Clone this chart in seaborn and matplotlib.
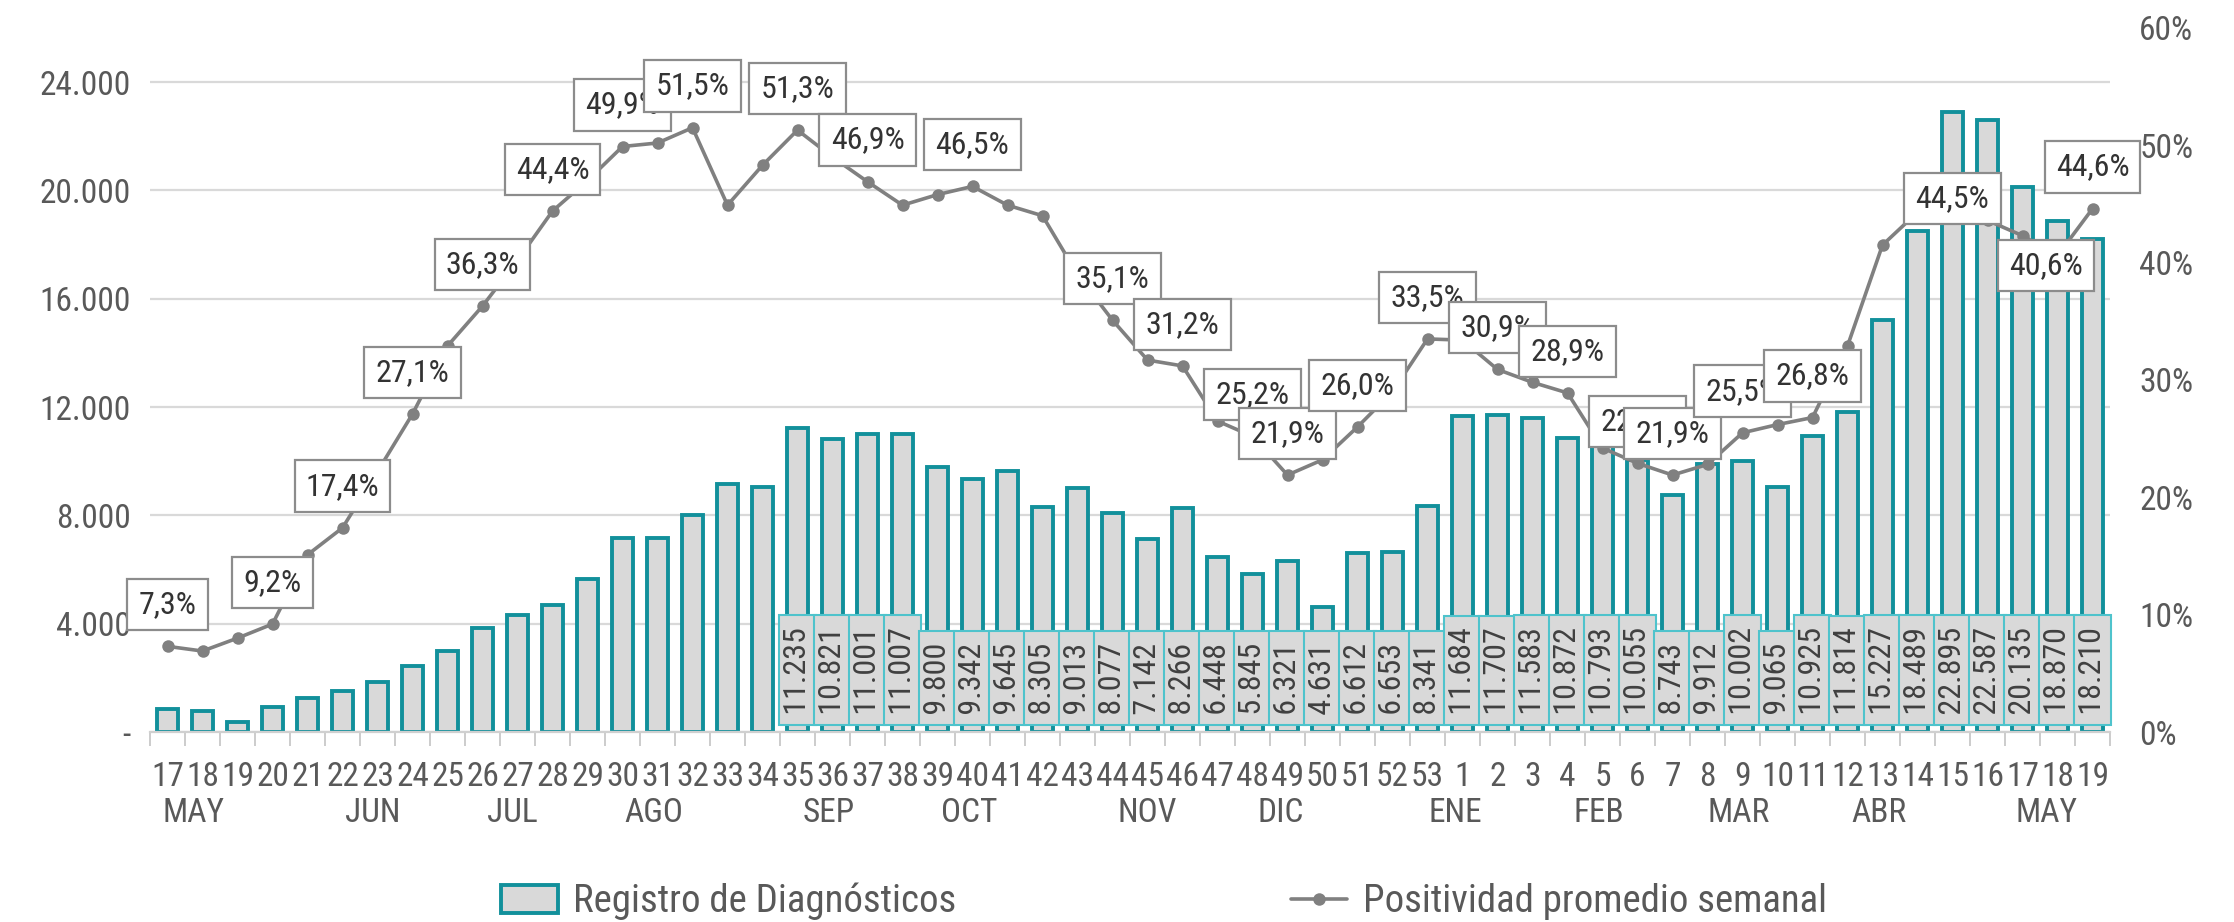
import matplotlib
matplotlib.use("Agg")
import pandas as pd
import matplotlib.pyplot as plt
import seaborn as sns
from matplotlib.patches import Patch
from matplotlib.lines import Line2D
from matplotlib.ticker import FuncFormatter, PercentFormatter
from matplotlib import font_manager

# -------------------------------
# Data (semanas epidemiológicas 17/2020 a 19/2021)
# -------------------------------
weeks = list(range(17, 54)) + list(range(1, 20))

diagnosticos = [
    850, 790, 380, 920, 1260, 1510, 1850, 2430, 3000, 3840, 4320, 4700,
    5640, 7170, 7170, 8010, 9170, 9060,
    11235, 10821, 11001, 11007, 9800, 9342, 9645, 8305, 9013, 8077, 7142,
    8266, 6448, 5845, 6321, 4631, 6612, 6653, 8341,
    11684, 11707, 11583, 10872, 10793, 10055, 8743, 9912, 10002, 9065,
    10925, 11814, 15227, 18489, 22895, 22587, 20135, 18870, 18210,
]

positividad = [
    7.3, 6.9, 8.0, 9.2, 15.1, 17.4, 22.2, 27.1, 32.9, 36.3, 40.2, 44.4,
    47.0, 49.9, 50.2, 51.5, 44.9, 48.3, 51.3, 49.0, 46.9, 44.9, 45.8, 46.5,
    44.9, 44.0, 39.0, 35.1, 31.7, 31.2, 26.5, 25.2, 21.9, 23.2, 26.0, 29.0,
    33.5,
    33.4, 30.9, 29.8, 28.9, 24.2, 22.9, 21.9, 22.8, 25.5, 26.2, 26.8, 32.9,
    41.5, 44.3, 44.5, 43.6, 42.3, 40.6, 44.6,
]

# weeks (by position) whose positivity value is labelled
pct_labelled = [0, 3, 5, 7, 9, 11, 13, 15, 18, 20, 23, 27, 29, 31, 32, 34,
                36, 38, 40, 42, 43, 45, 47, 51, 54, 55]
first_bar_label = 18  # bar values are shown from week 35 on

months = ["MAY", "JUN", "JUL", "AGO", "SEP", "OCT", "NOV", "DIC",
          "ENE", "FEB", "MAR", "ABR", "MAY"]
month_at = [0.75, 5.85, 9.85, 13.9, 18.9, 22.9, 28.0, 31.8,
            36.8, 40.9, 44.9, 48.9, 53.7]

df = pd.DataFrame({
    "idx": range(len(weeks)),
    "semana": weeks,
    "diagnosticos": diagnosticos,
    "positividad": [p / 100 for p in positividad],
})

# -------------------------------
# Style
# -------------------------------
TEAL = "#12909b"
TEAL_LIGHT = "#4fc3cc"
BAR_FILL = "#d9d9d9"
LINE_GREY = "#808080"
TXT = "#595959"

sns.set_theme(style="white")

# look for a narrow sans font, the original uses a condensed face
names = {f.name for f in font_manager.fontManager.ttflist}
narrow = [n for n in ["Liberation Sans Narrow", "DejaVu Sans Condensed",
                      "Roboto Condensed", "Open Sans Condensed"] if n in names]
condensed_dejavu = any(f.name == "DejaVu Sans" and f.stretch == "condensed"
                       for f in font_manager.fontManager.ttflist)
plt.rcParams["font.family"] = narrow + ["DejaVu Sans"]
if not narrow and condensed_dejavu:
    plt.rcParams["font.stretch"] = "condensed"
use_narrow = bool(narrow) or condensed_dejavu
S = 1.0 if use_narrow else 0.8  # shrink text when only the wide face exists

W, H = 2234, 922
fig = plt.figure(figsize=(W / 100, H / 100), dpi=100)
ax = fig.add_axes([150 / W, 1 - 732 / H, (2110 - 150) / W, (732 - 28) / H])

# -------------------------------
# Bars
# -------------------------------
sns.barplot(data=df, x="idx", y="diagnosticos", ax=ax, color=BAR_FILL,
            saturation=1, edgecolor=TEAL, linewidth=2.8, width=0.62, zorder=2)

ax.set_xlim(-0.5, len(weeks) - 0.5)
ax.set_ylim(0, 26000)
ax.set_yticks(range(0, 24001, 4000))
ax.yaxis.set_major_formatter(FuncFormatter(
    lambda v, _: "-" if v == 0 else f"{int(v):,}".replace(",", ".")))
ax.set_axisbelow(True)
ax.yaxis.grid(True, color="#d9d9d9", lw=1.6)
ax.xaxis.grid(False)
for s in ["left", "right", "top"]:
    ax.spines[s].set_visible(False)
ax.spines["bottom"].set_color("#d0d0d0")
ax.spines["bottom"].set_linewidth(1.6)
ax.set_xlabel("")
ax.set_ylabel("")

ax.set_xticks(df["idx"])
ax.set_xticklabels(weeks)
ax.set_xticks([i - 0.5 for i in range(len(weeks) + 1)], minor=True)
ax.tick_params(axis="x", which="major", length=0, pad=21, labelsize=24 * S,
               labelcolor=TXT)
ax.tick_params(axis="x", which="minor", length=10, width=1.3,
               color="#c8c8c8", direction="out", bottom=True)
ax.tick_params(axis="y", length=0, pad=14, labelsize=24 * S, labelcolor=TXT)

for m, x in zip(months, month_at):
    ax.annotate(m, xy=(x, 0), xycoords=("data", "axes fraction"),
                xytext=(0, -58), textcoords="offset points",
                ha="center", va="center", fontsize=24 * S, color=TXT)

# bar value labels
for i in range(first_bar_label, len(weeks)):
    v = diagnosticos[i]
    ax.annotate(f" {v:,} ".replace(",", "."), xy=(i, 0),
                xytext=(0, 7.5), textcoords="offset points",
                rotation=90, ha="center", va="bottom", fontsize=23 * S,
                color="#404040", zorder=4,
                bbox=dict(boxstyle="square,pad=0.12", fc=BAR_FILL,
                          ec=TEAL_LIGHT, lw=1.5))

# -------------------------------
# Positivity line
# -------------------------------
ax2 = ax.twinx()
sns.lineplot(data=df, x="idx", y="positividad", ax=ax2, color=LINE_GREY,
             lw=2.6, marker="o", markersize=9, markeredgewidth=0,
             legend=False, zorder=3)
ax2.set_ylim(0, 0.6)
ax2.set_yticks([i / 10 for i in range(7)])
ax2.yaxis.set_major_formatter(PercentFormatter(1, decimals=0))
ax2.tick_params(axis="y", length=0, pad=21, labelsize=24 * S, labelcolor=TXT)
ax2.grid(False)
for s in ax2.spines.values():
    s.set_visible(False)
ax2.set_xlabel("")
ax2.set_ylabel("")

offsets = {51: (0, 8), 54: (-8.5, -7)}
for k, i in enumerate(pct_labelled):
    v = positividad[i]
    dx, dy = offsets.get(i, (0, 30))
    ax2.annotate(f"{v:.1f}%".replace(".", ","), xy=(i, v / 100),
                 xytext=(dx, dy), textcoords="offset points",
                 ha="center", va="center", fontsize=23 * S, color="#333333",
                 zorder=5 + k,
                 bbox=dict(boxstyle="square,pad=0.35", fc="white",
                           ec="#8c8c8c", lw=1.6))

# -------------------------------
# Legend
# -------------------------------
handles = [
    Patch(facecolor=BAR_FILL, edgecolor=TEAL, linewidth=2.8,
          label="Registro de Diagnósticos"),
    Line2D([], [], color=LINE_GREY, lw=2.6, marker="o", markersize=9,
           markeredgewidth=0, label="Positividad promedio semanal"),
]
fig.legend(handles=handles, loc="center", bbox_to_anchor=(0.521, 0.022),
           ncol=2, frameon=False, fontsize=28 * S, labelcolor=TXT,
           handlelength=1.45, handleheight=0.75, handletextpad=0.4,
           columnspacing=8.6 / S)

fig.savefig("out.png", dpi=100)
